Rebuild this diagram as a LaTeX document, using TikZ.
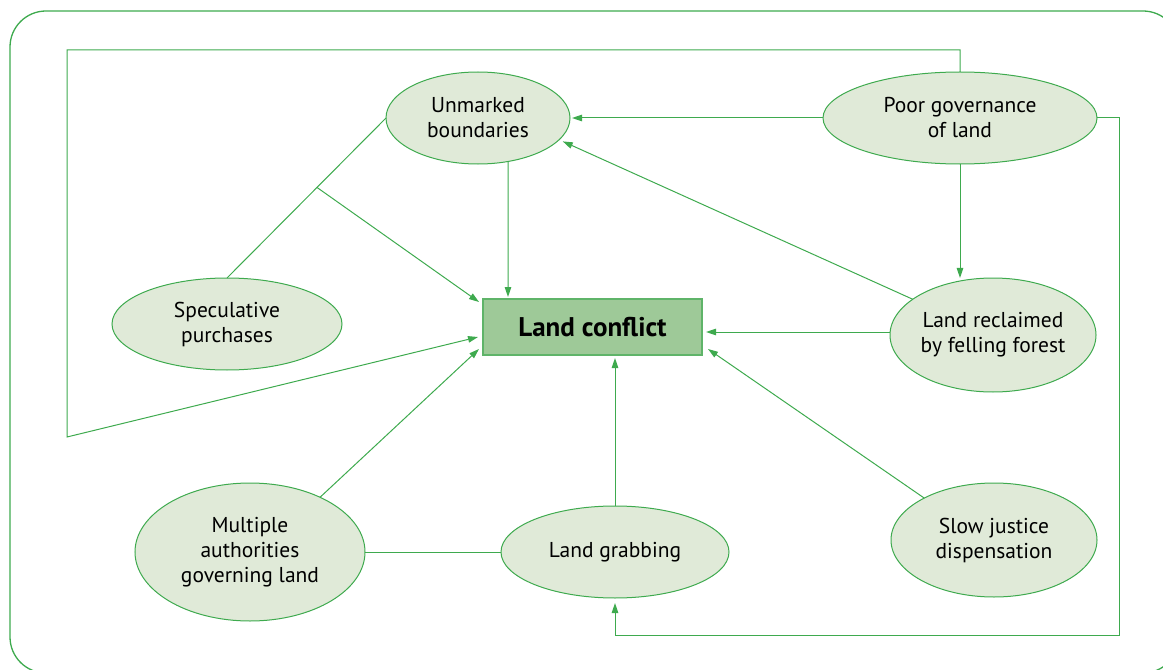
\documentclass[tikz,border=0pt]{standalone}
\usepackage{fontspec}
\setmainfont{PT Sans}
\usetikzlibrary{shapes.geometric,calc,arrows.meta}
\definecolor{gline}{RGB}{62,170,78}
\definecolor{efill}{RGB}{224,234,216}
\definecolor{bfill}{RGB}{158,201,152}
\definecolor{bline}{RGB}{95,180,105}
\tikzset{
  ell/.style={ellipse, draw=gline, line width=1bp, fill=efill, inner sep=0pt, outer sep=0pt,
    align=center, font=\fontsize{21.5bp}{25bp}\selectfont},
  mainbox/.style={rectangle, draw=bline, line width=1.2bp, fill=bfill, inner sep=0pt, outer sep=0pt,
    minimum width=219bp, minimum height=56bp, font=\fontsize{27bp}{30bp}\selectfont\bfseries},
  conn/.style={draw=gline, line width=1bp},
  arr/.style={conn, -{Triangle[length=10bp,width=6.5bp]}},
}
\begin{document}
\begin{tikzpicture}[x=1bp,y=-1bp]
\useasboundingbox (0,0) rectangle (1163,670);
\begin{scope}
\clip (0,0) rectangle (1163,670);
\draw[gline, line width=1.3bp, rounded corners=36bp] (10,11) rectangle (1179,673);
\end{scope}

% nodes
\node[mainbox] (lc) at (592.5,327) {Land conflict};
\node[ell, minimum width=184bp, minimum height=92bp] (ub) at (478,118) {Unmarked\\boundaries};
\node[ell, minimum width=274bp, minimum height=92bp] (pg) at (960,118) {Poor governance\\of land};
\node[ell, minimum width=206bp, minimum height=114bp] (lr) at (993,335) {Land reclaimed\\by felling forest};
\node[ell, minimum width=230bp, minimum height=92bp] (sp) at (227,324) {Speculative\\purchases};
\node[ell, minimum width=230bp, minimum height=138bp] (ma) at (250,552) {Multiple\\authorities\\governing land};
\node[ell, minimum width=228bp, minimum height=92bp] (lg) at (615,552) {Land grabbing};
\node[ell, minimum width=206bp, minimum height=114bp] (sj) at (994,540) {Slow justice\\dispensation};

% helper coordinates
\coordinate (br) at ($(sp.north)!0.566!(ub.west)$);
\coordinate (tl) at (67,50);
\coordinate (bl) at (67,437);
\coordinate (tr) at (1119,118);
\coordinate (rc) at (1119,635);

% connectors
\draw[arr, shorten >=2bp] ($(ub.south)+(30,-3)$) -- ($(lc.north west)+(25,0)$);
\draw[arr, shorten >=2bp] (pg.west) -- (ub.east);
\draw[arr, shorten >=4bp] (lr.156.6) -- (ub.-15.9);
\draw[conn] (sp.north) -- (ub.west);
\draw[arr] (br) -- ($(lc.north west)+(-4,3)$);
\draw[arr] (pg.north) |- (tl) -- (bl) -- ($(lc.west)+(-5,10)$);
\draw[arr] (ma.38.2) -- ($(lc.south west)+(-4,-6)$);
\draw[conn] (ma.east) -- (lg.west);
\draw[arr, shorten >=3bp] (lg.north) -- (lg.north |- lc.south);
\draw[arr, shorten >=4bp] ($(lr.west)+(0,-3)$) -- ($(lc.east)+(0,5)$);
\draw[arr] (sj.149.4) -- ($(lc.south east)+(6,-6)$);
\draw[arr] (pg.south) -- (pg.south |- lr.north);
\draw[arr, shorten >=5bp] (pg.east) -- (tr) -- (rc) -| (lg.south);
\end{tikzpicture}
\end{document}
